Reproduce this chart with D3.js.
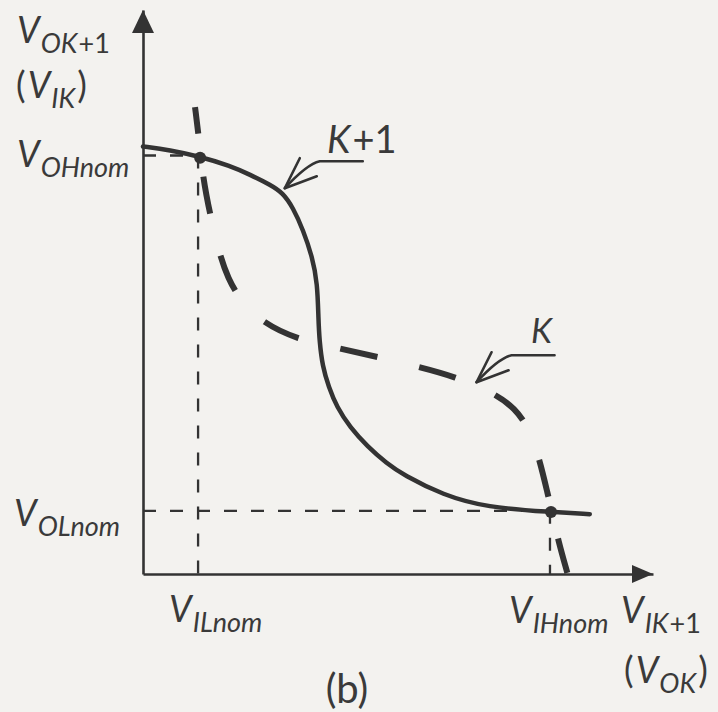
<!DOCTYPE html>
<html>
<head>
<meta charset="utf-8">
<script src="https://cdn.jsdelivr.net/npm/d3@7"></script>
<style>
  html, body { margin: 0; padding: 0; background: #f3f2ef; }
  svg { display: block; }
  text { font-family: Lato, "Open Sans", sans-serif; fill: #3a3a3a; }
</style>
</head>
<body>
<script>
// Transfer characteristics of two cascaded stages (volts, schematic)
// Stage K+1: V_OK+1 as a function of V_IK+1 (solid)
const stageK1_vin  = [0, 0.26, 0.56, 0.85, 1.05, 1.25, 1.37, 1.47, 1.57, 1.66, 1.71, 1.72, 1.73, 1.76, 1.82, 1.90, 2.03, 2.20, 2.39, 2.55, 2.94, 3.37, 3.99, 4.38];
const stageK1_vout = [3.79, 3.76, 3.70, 3.62, 3.54, 3.45, 3.38, 3.25, 3.05, 2.81, 2.58, 2.25, 2.07, 1.84, 1.66, 1.48, 1.30, 1.13, 0.98, 0.88, 0.70, 0.59, 0.55, 0.53];

// Stage K: V_IK (vertical) against V_OK (horizontal), dashed
const stageK_vout = [0.51, 0.55, 0.58, 0.62, 0.67, 0.74, 0.83, 0.97, 1.17, 1.51, 1.93, 2.32, 2.69, 3.06, 3.43, 3.65, 3.79, 3.89, 3.97, 4.01, 4.07, 4.16];
const stageK_vin  = [4.14, 3.85, 3.58, 3.36, 3.14, 2.87, 2.62, 2.41, 2.23, 2.08, 2.00, 1.92, 1.84, 1.75, 1.61, 1.47, 1.28, 1.01, 0.70, 0.55, 0.30, 0.01];

// Nominal levels
const V_ILnom = 0.54;
const V_IHnom = 3.99;
const V_OHnom = 3.71;
const V_OLnom = 0.56;

// Operating points where the two curves cross
const crossings = [[0.56, 3.69], [4.00, 0.55]];

const W = 718, H = 712;
const ink = "#333";

const svg = d3.select("body").append("svg").attr("width", W).attr("height", H);

const x = d3.scaleLinear().domain([0, 5]).range([143, 653]);
const y = d3.scaleLinear().domain([0, 5]).range([574, 10]);

// Axes: bare lines with filled arrowheads
svg.append("g").attr("transform", `translate(0,${y(0)})`)
  .call(d3.axisBottom(x).tickValues([]).tickSizeOuter(0));
svg.append("g").attr("transform", `translate(${x(0)},0)`)
  .call(d3.axisLeft(y).tickValues([]).tickSizeOuter(0));
svg.selectAll(".domain").attr("stroke", ink).attr("stroke-width", 2.6);

svg.append("path")
  .attr("d", `M${x(5)},${y(0)} L${x(5) - 21},${y(0) - 9} L${x(5) - 21},${y(0) + 9} Z`)
  .attr("fill", ink);
svg.append("path")
  .attr("d", `M${x(0)},${y(5)} L${x(0) - 11},${y(5) + 23} L${x(0) + 11},${y(5) + 23} Z`)
  .attr("fill", ink);

// Reference lines to the nominal levels
const guide = svg.append("g").attr("stroke", ink).attr("stroke-width", 2.3)
  .attr("stroke-dasharray", "13 14").attr("fill", "none");
guide.append("line").attr("x1", x(0)).attr("x2", x(crossings[0][0])).attr("y1", y(V_OHnom)).attr("y2", y(V_OHnom));
guide.append("line").attr("x1", x(V_ILnom)).attr("x2", x(V_ILnom)).attr("y1", y(V_OHnom)).attr("y2", y(0));
guide.append("line").attr("x1", x(0)).attr("x2", x(V_IHnom)).attr("y1", y(V_OLnom)).attr("y2", y(V_OLnom));
guide.append("line").attr("x1", x(V_IHnom)).attr("x2", x(V_IHnom)).attr("y1", y(V_OLnom)).attr("y2", y(0));

const line = d3.line().x(d => x(d[0])).y(d => y(d[1])).curve(d3.curveBasis);

// Stage K (dashed)
svg.append("path")
  .datum(d3.zip(stageK_vout, stageK_vin))
  .attr("d", line)
  .attr("fill", "none").attr("stroke", ink).attr("stroke-width", 6)
  .attr("stroke-dasharray", "38 43").attr("stroke-dashoffset", 11);

// Stage K+1 (solid)
svg.append("path")
  .datum(d3.zip(stageK1_vin, stageK1_vout))
  .attr("d", line)
  .attr("fill", "none").attr("stroke", ink).attr("stroke-width", 4.5)
  .attr("stroke-linecap", "round");

svg.selectAll("circle.op").data(crossings).join("circle")
  .attr("class", "op")
  .attr("cx", d => x(d[0])).attr("cy", d => y(d[1])).attr("r", 6)
  .attr("fill", ink);

// Curve callouts
function callout(tip, label, lx, ly, size) {
  const [tx, ty] = [x(tip[0]), y(tip[1])];
  const g = svg.append("g").attr("fill", "none").attr("stroke", ink)
    .attr("stroke-width", 2.6).attr("stroke-linecap", "round").attr("stroke-linejoin", "round");
  g.append("path").attr("d",
    `M${tx + 78},${ty - 27} L${tx + 35},${ty - 27} Q${tx + 22},${ty - 24} ${tx},${ty}`);
  g.append("path").attr("d",
    `M${tx + 15},${ty - 30} L${tx},${ty} L${tx + 32},${ty - 12}`);
  const t = svg.append("text").attr("x", lx).attr("y", ly).attr("font-size", size);
  t.append("tspan").attr("font-style", "italic").text("K");
  if (label) t.append("tspan").attr("dx", 2).text(label);
}
callout([1.39, 3.42], "+1", 327, 153, 38);
callout([3.27, 1.70], "", 531, 343, 34);

// Subscripted voltage labels
function vlabel(px, py, sub, opts = {}) {
  const big = opts.big || 36, small = opts.small || 27;
  const t = svg.append("text").attr("x", px).attr("y", py);
  if (opts.paren) t.append("tspan").attr("font-size", big).text("(");
  t.append("tspan").attr("font-size", big).attr("font-style", "italic")
    .attr("dx", opts.paren ? 2 : 0).text("V");
  // Subscripts: letters italic, "+1" upright
  const m = sub.match(/^(.*?)(\+1)?$/);
  t.append("tspan").attr("font-size", small).attr("font-style", "italic")
    .attr("dx", 1).attr("dy", 10).text(m[1]);
  if (m[2]) t.append("tspan").attr("font-size", small).attr("dx", 1).text(m[2]);
  if (opts.paren) t.append("tspan").attr("font-size", big).attr("dx", 2).attr("dy", -10).text(")");
}

// Vertical axis title
vlabel(17, 43, "OK+1");
vlabel(16, 98, "IK", { paren: true });
// Horizontal axis title
vlabel(621, 623, "IK+1");
vlabel(624, 683, "OK", { paren: true });

// Level labels along the axes
vlabel(x(0) - 126, y(V_OHnom) + 11, "OHnom");
vlabel(x(0) - 129, y(V_OLnom) + 15, "OLnom");
vlabel(x(V_ILnom) - 29, 622, "ILnom");
vlabel(x(V_IHnom) - 41, 623, "IHnom");

svg.append("text").attr("x", 347).attr("y", 703).attr("text-anchor", "middle")
  .attr("font-size", 40).text("(b)");
</script>
</body>
</html>
